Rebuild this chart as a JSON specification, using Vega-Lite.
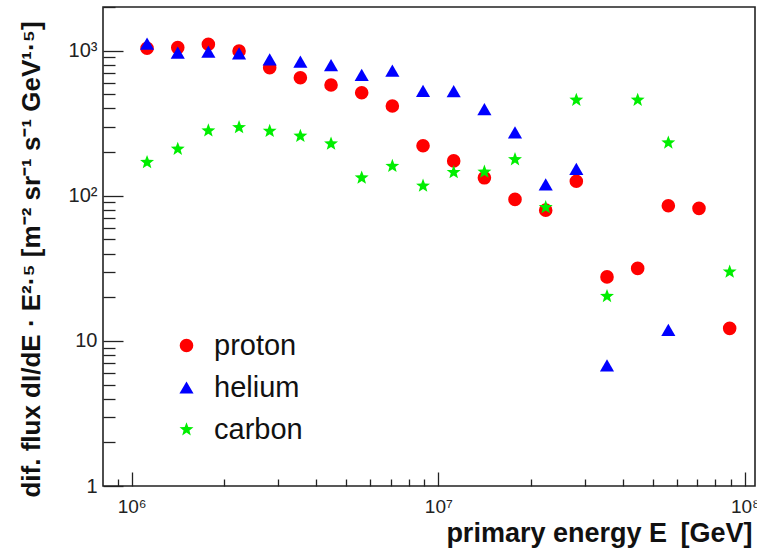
{
  "$schema": "https://vega.github.io/schema/vega-lite/v6.json",
  "width": 652,
  "height": 479,
  "autosize": "none",
  "padding": {"left": 103, "top": 7, "right": 2, "bottom": 70},
  "background": "white",
  "config": {
    "view": {"stroke": "#222222", "strokeWidth": 1.6},
    "font": "Liberation Sans",
    "axis": {"grid": false, "domain": false, "tickColor": "#222222", "tickWidth": 1.3, "labelColor": "#222222", "titleColor": "#111111"}
  },
  "data": {
    "values": [
      {"energy": 1122000, "flux": 1040, "species": "proton"},
      {"energy": 1413000, "flux": 1050, "species": "proton"},
      {"energy": 1778000, "flux": 1107, "species": "proton"},
      {"energy": 2239000, "flux": 995, "species": "proton"},
      {"energy": 2818000, "flux": 764, "species": "proton"},
      {"energy": 3548000, "flux": 651, "species": "proton"},
      {"energy": 4467000, "flux": 580, "species": "proton"},
      {"energy": 5623000, "flux": 513, "species": "proton"},
      {"energy": 7079000, "flux": 416, "species": "proton"},
      {"energy": 8913000, "flux": 221, "species": "proton"},
      {"energy": 11220000, "flux": 174, "species": "proton"},
      {"energy": 14130000, "flux": 133, "species": "proton"},
      {"energy": 17780000, "flux": 94.4, "species": "proton"},
      {"energy": 22390000, "flux": 79.6, "species": "proton"},
      {"energy": 28180000, "flux": 126, "species": "proton"},
      {"energy": 35480000, "flux": 27.6, "species": "proton"},
      {"energy": 44670000, "flux": 31.6, "species": "proton"},
      {"energy": 56230000, "flux": 85.3, "species": "proton"},
      {"energy": 70790000, "flux": 81.9, "species": "proton"},
      {"energy": 89130000, "flux": 12.2, "species": "proton"},
      {"energy": 1122000, "flux": 1117, "species": "helium"},
      {"energy": 1413000, "flux": 969, "species": "helium"},
      {"energy": 1778000, "flux": 985, "species": "helium"},
      {"energy": 2239000, "flux": 959, "species": "helium"},
      {"energy": 2818000, "flux": 872, "species": "helium"},
      {"energy": 3548000, "flux": 840, "species": "helium"},
      {"energy": 4467000, "flux": 796, "species": "helium"},
      {"energy": 5623000, "flux": 680, "species": "helium"},
      {"energy": 7079000, "flux": 728, "species": "helium"},
      {"energy": 8913000, "flux": 529, "species": "helium"},
      {"energy": 11220000, "flux": 527, "species": "helium"},
      {"energy": 14130000, "flux": 396, "species": "helium"},
      {"energy": 17780000, "flux": 274, "species": "helium"},
      {"energy": 22390000, "flux": 120, "species": "helium"},
      {"energy": 28180000, "flux": 153, "species": "helium"},
      {"energy": 35480000, "flux": 6.79, "species": "helium"},
      {"energy": 56230000, "flux": 11.9, "species": "helium"},
      {"energy": 1122000, "flux": 170, "species": "carbon"},
      {"energy": 1413000, "flux": 210, "species": "carbon"},
      {"energy": 1778000, "flux": 281, "species": "carbon"},
      {"energy": 2239000, "flux": 296, "species": "carbon"},
      {"energy": 2818000, "flux": 279, "species": "carbon"},
      {"energy": 3548000, "flux": 258, "species": "carbon"},
      {"energy": 4467000, "flux": 228, "species": "carbon"},
      {"energy": 5623000, "flux": 133, "species": "carbon"},
      {"energy": 7079000, "flux": 160, "species": "carbon"},
      {"energy": 8913000, "flux": 117, "species": "carbon"},
      {"energy": 11220000, "flux": 145, "species": "carbon"},
      {"energy": 14130000, "flux": 146, "species": "carbon"},
      {"energy": 17780000, "flux": 178, "species": "carbon"},
      {"energy": 22390000, "flux": 83.2, "species": "carbon"},
      {"energy": 28180000, "flux": 457, "species": "carbon"},
      {"energy": 35480000, "flux": 20.3, "species": "carbon"},
      {"energy": 44670000, "flux": 457, "species": "carbon"},
      {"energy": 56230000, "flux": 232, "species": "carbon"},
      {"energy": 89130000, "flux": 29.9, "species": "carbon"}
    ]
  },
  "mark": {"type": "point", "filled": true, "opacity": 1},
  "encoding": {
    "x": {
      "field": "energy", "type": "quantitative",
      "scale": {"type": "log", "domain": [806000, 107800000], "nice": false},
      "axis": {
        "orient": "bottom",
        "values": [900000, 1000000, 2000000, 3000000, 4000000, 5000000, 6000000, 7000000, 8000000, 9000000, 10000000, 20000000, 30000000, 40000000, 50000000, 60000000, 70000000, 80000000, 90000000, 100000000],
        "tickSize": {"condition": {"test": "datum.value == 1000000 || datum.value == 10000000 || datum.value == 100000000", "value": -14}, "value": -7},
        "labelPadding": 25,
        "labelExpr": "datum.value == 1000000 ? '10⁶' : datum.value == 10000000 ? '10⁷' : datum.value == 100000000 ? '10⁸' : ''",
        "labelFontSize": 19,
        "title": "primary energy E\u2002[GeV]",
        "titleFontSize": 27, "titleFontWeight": "bold",
        "titleAnchor": "end", "titleAlign": "right", "titleX": 649, "titleY": 55, "titleBaseline": "alphabetic"
      }
    },
    "y": {
      "field": "flux", "type": "quantitative",
      "scale": {"type": "log", "domain": [1, 2000], "nice": false},
      "axis": {
        "orient": "left",
        "values": [1, 2, 3, 4, 5, 6, 7, 8, 9, 10, 20, 30, 40, 50, 60, 70, 80, 90, 100, 200, 300, 400, 500, 600, 700, 800, 900, 1000, 2000],
        "tickSize": {"condition": {"test": "datum.value == 1 || datum.value == 10 || datum.value == 100 || datum.value == 1000", "value": -20}, "value": -12},
        "labelPadding": 26,
        "labelExpr": "datum.value == 1 ? '1' : datum.value == 10 ? '10' : datum.value == 100 ? '10²' : datum.value == 1000 ? '10³' : ''",
        "labelFontSize": 20,
        "title": "dif. flux dI/dE · E²·⁵ [m⁻² sr⁻¹ s⁻¹ GeV¹·⁵]",
        "titleFontSize": 26, "titleFontWeight": "bold",
        "titleAnchor": "middle", "titleX": -64, "titleY": 252, "titleAngle": -90, "titleBaseline": "alphabetic", "titleAlign": "center"
      }
    },
    "color": {
      "field": "species", "type": "nominal",
      "scale": {"domain": ["proton", "helium", "carbon"], "range": ["#ff0000", "#0000ff", "#00ee00"]},
      "legend": {
        "title": null, "orient": "none", "legendX": 69, "legendY": 324,
        "labelFontSize": 29, "labelColor": "#111111",
        "rowPadding": 12, "labelOffset": 13, "symbolStrokeWidth": 0
      }
    },
    "shape": {
      "field": "species", "type": "nominal",
      "scale": {"domain": ["proton", "helium", "carbon"], "range": ["circle", "triangle-up", "M0,-1L0.247,-0.34L0.951,-0.309L0.399,0.13L0.588,0.809L0,0.42L-0.588,0.809L-0.399,0.13L-0.951,-0.309L-0.247,-0.34Z"]}
    },
    "size": {
      "field": "species", "type": "nominal",
      "scale": {"domain": ["proton", "helium", "carbon"], "range": [185, 215, 270]}
    },
    "order": {"field": "species", "sort": "descending"}
  }
}
